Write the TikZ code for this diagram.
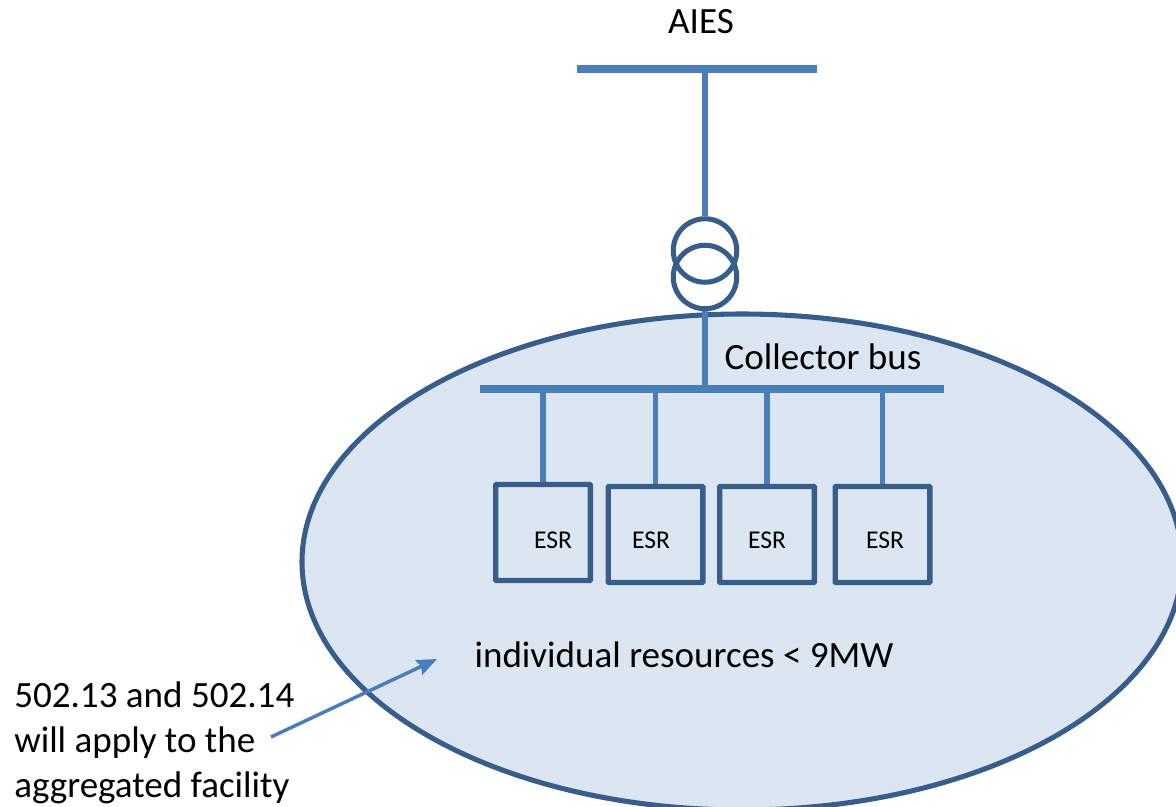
\documentclass[tikz,border=0pt]{standalone}
\usepackage{fontspec}
\setmainfont{Carlito}
\usetikzlibrary{arrows.meta,shapes.geometric}

\begin{document}
\begin{tikzpicture}[x=.75pt,y=-.75pt,
    bus/.style={fill=busblue,minimum height=6pt,minimum width=#1,inner sep=0pt},
    wire/.style={busblue,line width=4.2pt},
    esr/.style={draw=edgeblue,line width=4pt,minimum width=71pt,minimum height=72pt,inner sep=0pt,rounded corners=.5pt},
    coil/.style={circle,draw=edgeblue,line width=3.8pt,minimum size=47.6pt,inner sep=0pt},
    lbl/.style={font=\fontsize{27.8}{33.6}\selectfont,inner sep=0pt},
    esrlbl/.style={font=\fontsize{19.2}{23}\selectfont,inner sep=0pt}]
     \definecolor{busblue}{HTML}{4A7EBB}
     \definecolor{edgeblue}{HTML}{385D8A}
     \definecolor{areablue}{HTML}{DCE6F2}
     \clip (0,0) rectangle (1176,806);

     \node[ellipse,draw=edgeblue,fill=areablue,line width=3.8pt,minimum width=660pt,minimum height=372pt,inner sep=0pt] (area) at (742,562) {};

     \node[bus=180pt] (aies) at (697,69) {};
     \node[bus=348pt] (cbus) at (712,389) {};
     \node[coil] (xfa) at (705,250.5) {};
     \node[coil] (xfb) at (705,277) {};

     \node[esr] (esr1) at (543,532.5) {};
     \node[esr] (esr2) at (655.5,534.5) {};
     \node[esr] (esr3) at (767,534.5) {};
     \node[esr] (esr4) at (882.5,534.5) {};

     \draw[wire] (xfa.north) -- (xfa.north |- aies);
     \draw[wire] (xfb.south) -- (xfb.south |- cbus);
     \foreach \i in {1,2,3,4}
       \draw[wire] (esr\i.north) -- (esr\i.north |- cbus);

     \node[esrlbl] (esrtxt1) at (553,540) {ESR};
     \node[esrlbl] (esrtxt2) at (651,540) {ESR};
     \node[esrlbl] (esrtxt3) at (767,540) {ESR};
     \node[esrlbl] (esrtxt4) at (885,540) {ESR};

     \node[lbl] (aiestxt) at (701,22) {AIES};
     \node[lbl] (cbustxt) at (823,357) {Collector bus};
     \node[lbl] (restxt) at (684,655) {individual resources < 9MW};
     \node[lbl,align=left,anchor=west] (note) at (14,743) {502.13 and 502.14\\will apply to the\\aggregated facility};

     \coordinate (notestart) at (271,737);
     \coordinate (noteend) at (437,659);
     \draw[-{Stealth[length=15pt,width=12pt,inset=2pt]},busblue,line width=2.6pt] (notestart) -- (noteend);
\end{tikzpicture}
\end{document}
